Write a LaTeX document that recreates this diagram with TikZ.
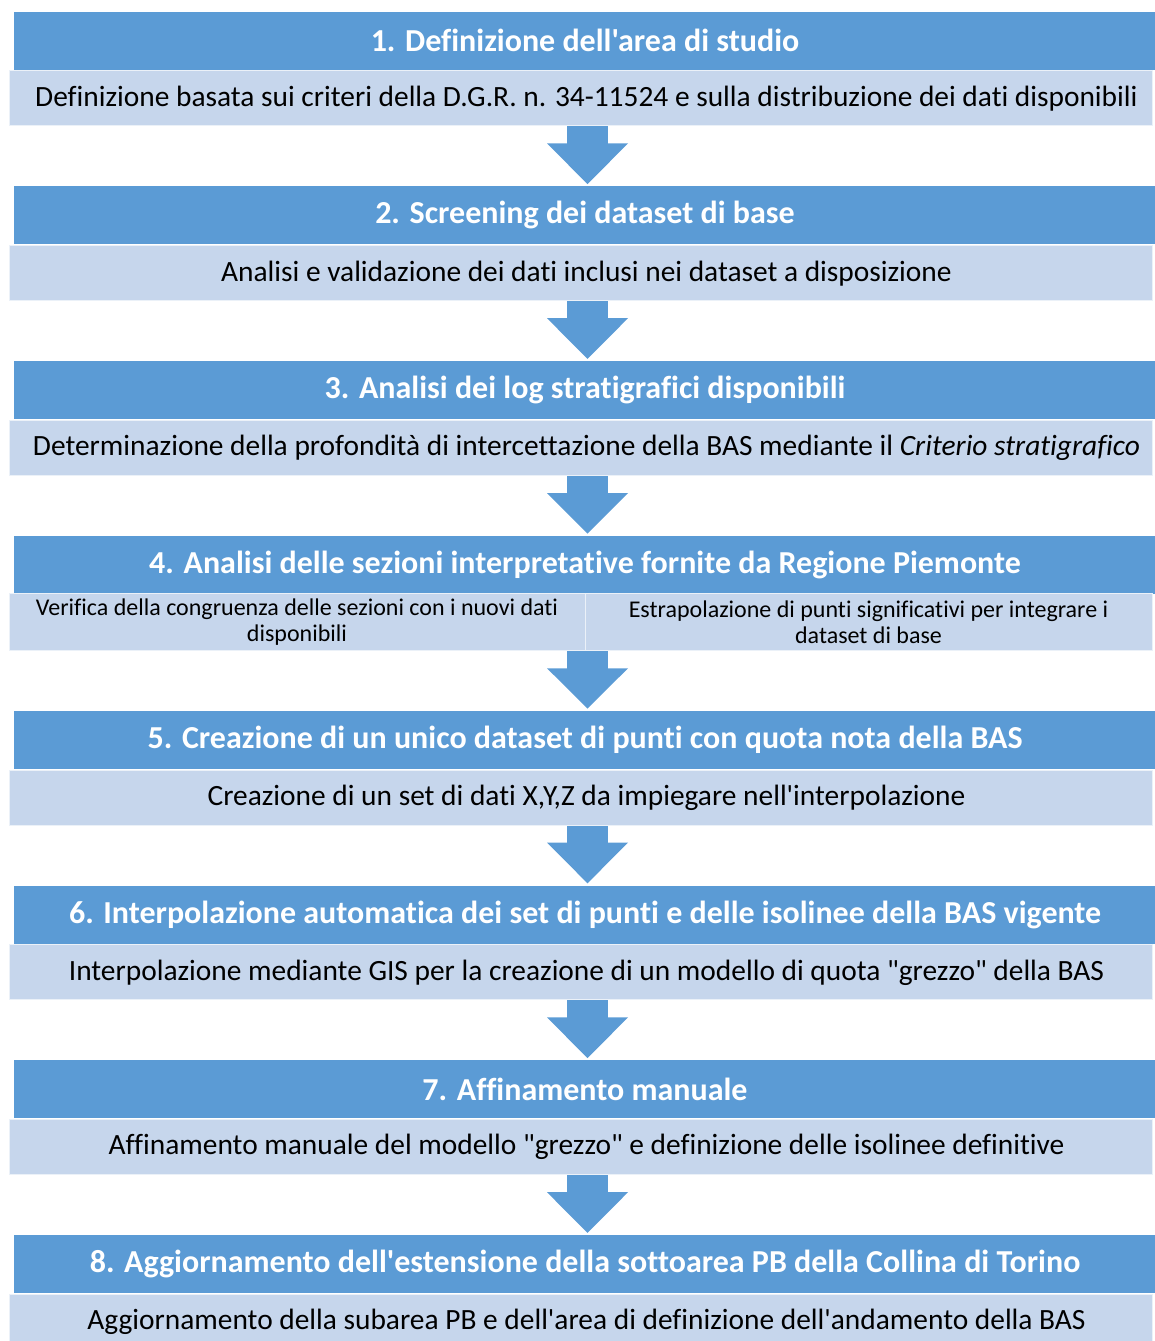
\documentclass[tikz,border=0pt]{standalone}
\usepackage{fontspec}
\setmainfont{Carlito}[Ligatures={TeXOff,NoCommon}]
\usetikzlibrary{calc}

\definecolor{headblue}{RGB}{91,155,213}
\definecolor{subblue}{RGB}{198,214,236}

\tikzset{
  headbox/.style={fill=headblue, text=white, font=\fontsize{32}{36}\selectfont\bfseries,
    minimum width=1142pt, minimum height=58pt, inner sep=0pt},
  subbase/.style={fill=subblue, draw=subblue!35!white, line width=1pt, inner sep=0pt},
  subbox/.style={subbase, font=\fontsize{29.4}{33}\selectfont, minimum width=1143pt, minimum height=55pt,
    execute at begin node={\hspace*{12pt}}},
  halfbox/.style={subbase, font=\fontsize{24}{26}\selectfont, align=center, minimum height=57pt},
  flowarrow/.style={fill=headblue}
}

\begin{document}
\begin{tikzpicture}[x=1pt,y=-1pt]

  \begin{scope}
\useasboundingbox (0,0) rectangle (1154,1341);

\node[headbox] (h1) at (585,40.5) {1. Definizione dell'area di studio};
\node[subbox] (s1) at (580.5,98.4) {Definizione basata sui criteri della D.G.R. n. 34-11524 e sulla distribuzione dei dati disponibili};

\node[headbox] (h2) at (585,215.3) {2. Screening dei dataset di base};
\node[subbox] (s2) at (580.5,273.2) {Analisi e validazione dei dati inclusi nei dataset a disposizione};

\node[headbox] (h3) at (585,390.1) {3. Analisi dei log stratigrafici disponibili};
\node[subbox] (s3) at (580.5,448) {Determinazione della profondità di intercettazione della BAS mediante il \textit{Criterio stratigrafico}};

\node[headbox] (h4) at (585,564.9) {4. Analisi delle sezioni interpretative fornite da Regione Piemonte};
\node[subbox, minimum height=57pt] (s4) at (580.5,622.3) {};
\node[halfbox, minimum width=576pt] (s4a) at (297,622.3) {Verifica della congruenza delle sezioni con i nuovi dati\\disponibili};
\node[halfbox, minimum width=567pt] (s4b) at (868.5,622.3) {Estrapolazione di punti significativi per integrare i\\dataset di base};

\node[headbox] (h5) at (585,739.7) {5. Creazione di un unico dataset di punti con quota nota della BAS};
\node[subbox] (s5) at (580.5,797.6) {Creazione di un set di dati X,Y,Z da impiegare nell'interpolazione};

\node[headbox] (h6) at (585,914.5) {6. Interpolazione automatica dei set di punti e delle isolinee della BAS vigente};
\node[subbox] (s6) at (580.5,972.4) {Interpolazione mediante GIS per la creazione di un modello di quota "grezzo" della BAS};

\node[headbox] (h7) at (585,1089.3) {7. Affinamento manuale};
\node[subbox] (s7) at (580.5,1147.2) {Affinamento manuale del modello "grezzo" e definizione delle isolinee definitive};

\node[headbox] (h8) at (585,1264.1) {8. Aggiornamento dell'estensione della sottoarea PB della Collina di Torino};
\node[subbox] (s8) at (580.5,1322) {Aggiornamento della subarea PB e dell'area di definizione dell'andamento della BAS};

% block arrows
\foreach \i [evaluate=\i as \j using int(\i+1)] in {1,...,7}{
  \fill[flowarrow] ($(s\i.south)+(-13.5,0)$) rectangle ++(41,18);
  \fill[flowarrow] ($(s\i.south)+(-33.5,17)$) -- ++(81,0) -- ($(h\j.north)+(2.5,-2)$) -- cycle;
}
\end{scope}

\end{tikzpicture}
\end{document}
